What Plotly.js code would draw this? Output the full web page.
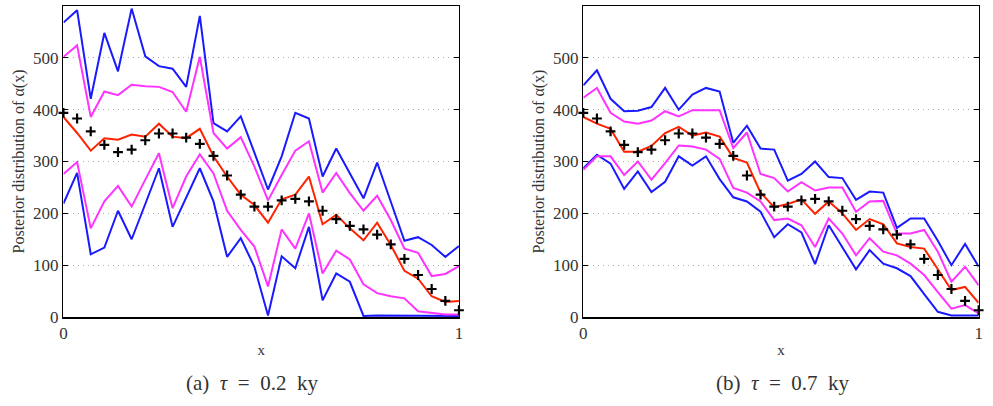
<!DOCTYPE html>
<html>
<head>
<meta charset="utf-8">
<script src="https://cdn.plot.ly/plotly-3.0.1.min.js"></script>
<style>html,body{margin:0;padding:0;background:#fff;}#chart{width:993px;height:406px;}</style>
</head>
<body>
<div id="chart"></div>
<script>
const xGrid = [0, 0.0345, 0.069, 0.1034, 0.1379, 0.1724, 0.2069, 0.2414, 0.2759, 0.3103, 0.3448, 0.3793, 0.4138, 0.4483, 0.4828, 0.5172, 0.5517, 0.5862, 0.6207, 0.6552, 0.6897, 0.7241, 0.7586, 0.7931, 0.8276, 0.8621, 0.8966, 0.931, 0.9655, 1];

const truth = [394, 383, 358, 332, 318, 323, 341, 354, 354, 346, 334, 311, 273, 236, 213, 213, 225, 228, 223, 205, 189, 176, 169, 159, 140, 112, 81, 54, 31, 13];

// (a) tau = 0.2 ky
const aBlueUp  = [568, 592, 421, 548, 474, 595, 503, 484, 479, 444, 581, 374, 358, 387, 317, 246, 310, 394, 383, 271, 325, 276, 229, 298, 223, 147, 154, 139, 116, 137];
const aMagUp   = [502, 524, 386, 435, 428, 448, 445, 444, 434, 396, 502, 355, 325, 347, 290, 225, 274, 321, 339, 240, 278, 239, 205, 234, 187, 132, 124, 79, 83, 98];
const aMean    = [386, 355, 321, 345, 342, 352, 348, 373, 348, 345, 363, 310, 271, 236, 216, 182, 227, 236, 271, 179, 197, 171, 148, 182, 139, 89, 74, 40, 29, 31];
const aMagLow  = [276, 299, 171, 223, 253, 213, 265, 316, 210, 271, 314, 277, 205, 168, 136, 59, 169, 132, 200, 84, 128, 111, 63, 46, 40, 36, 11, 8, 5, 5];
const aBlueLow = [219, 278, 121, 134, 205, 150, 218, 287, 174, 231, 287, 223, 116, 152, 97, 3, 117, 94, 174, 32, 84, 68, 2, 3, 3, 3, 2, 2, 2, 2];

// (b) tau = 0.7 ky
const bBlueUp  = [447, 476, 421, 397, 398, 405, 442, 400, 429, 442, 435, 336, 369, 325, 323, 263, 276, 300, 270, 268, 226, 242, 240, 172, 190, 190, 147, 100, 141, 97];
const bMagUp   = [423, 442, 394, 377, 373, 379, 397, 387, 399, 399, 399, 326, 356, 276, 268, 242, 260, 244, 250, 250, 203, 223, 224, 161, 161, 168, 126, 68, 97, 61];
const bMean    = [386, 373, 363, 319, 319, 330, 355, 367, 350, 356, 348, 307, 298, 240, 212, 218, 227, 199, 223, 200, 168, 189, 179, 142, 135, 132, 92, 52, 58, 27];
const bMagLow  = [284, 310, 310, 274, 300, 265, 297, 331, 329, 323, 305, 249, 240, 223, 187, 190, 177, 135, 190, 161, 119, 152, 126, 119, 103, 81, 48, 16, 23, 7];
const bBlueLow = [287, 313, 296, 247, 281, 241, 261, 310, 292, 310, 266, 231, 223, 203, 154, 179, 163, 102, 177, 135, 92, 129, 103, 94, 79, 44, 10, 3, 3, 3];

const yTicks = [0, 100, 200, 300, 400, 500];
const xTicks = [0, 1];

const BLUE = '#1a1aff', MAG = '#ff33ff', RED = '#ff2200';
function line(y, color, xa, ya) {
  return {x: xGrid, y: y, type: 'scatter', mode: 'lines', xaxis: xa, yaxis: ya,
          line: {color: color, width: 2}, hoverinfo: 'skip', showlegend: false};
}
function marks(xa, ya) {
  return {x: xGrid, y: truth, type: 'scatter', mode: 'markers', xaxis: xa, yaxis: ya,
          marker: {symbol: 'cross-thin', size: 7, color: '#000', line: {color: '#000', width: 2.2}},
          showlegend: false, cliponaxis: false};
}
const traces = [
  line(aBlueUp, BLUE, 'x', 'y'), line(aBlueLow, BLUE, 'x', 'y'),
  line(aMagUp, MAG, 'x', 'y'), line(aMagLow, MAG, 'x', 'y'),
  line(aMean, RED, 'x', 'y'), marks('x', 'y'),
  line(bBlueUp, BLUE, 'x2', 'y2'), line(bBlueLow, BLUE, 'x2', 'y2'),
  line(bMagUp, MAG, 'x2', 'y2'), line(bMagLow, MAG, 'x2', 'y2'),
  line(bMean, RED, 'x2', 'y2'), marks('x2', 'y2')
];

const FONT = '"Liberation Serif", "DejaVu Serif", serif';
const TXT = '#333';
function xAxis(dom, anchor) {
  return {domain: dom, anchor: anchor, range: [0, 1], tickvals: xTicks, ticktext: ['0', '1'],
          showline: true, mirror: 'ticks', linecolor: '#000', linewidth: 1.5,
          ticks: 'inside', ticklen: 5, tickcolor: '#000', showgrid: false, zeroline: false,
          tickfont: {family: FONT, size: 17, color: TXT},
          title: {text: 'x', font: {family: FONT, size: 15, color: TXT}, standoff: 2}};
}
function yAxis(anchor) {
  return {domain: [0.2192, 0.9852], anchor: anchor, range: [0, 600], tickvals: yTicks,
          showline: true, mirror: 'ticks', linecolor: '#000', linewidth: 1.5,
          ticks: 'inside', ticklen: 5, tickcolor: '#000', zeroline: false,
          showgrid: true, gridcolor: '#aaa', griddash: '1px,4px', gridwidth: 1,
          tickfont: {family: FONT, size: 17, color: TXT},
          title: {text: 'Posterior distribution of α(x)', font: {family: FONT, size: 16, color: TXT}, standoff: 4}};
}
const layout = {
  width: 993, height: 406,
  margin: {l: 0, r: 0, t: 0, b: 0},
  paper_bgcolor: '#fff', plot_bgcolor: '#fff',
  xaxis: xAxis([0.0639, 0.4622], 'y'),
  yaxis: yAxis('x'),
  xaxis2: xAxis([0.5874, 0.9856], 'y2'),
  yaxis2: yAxis('x2'),
  annotations: [
    {text: '(a)&nbsp;&nbsp;<i>τ</i>&nbsp;&nbsp;=&nbsp;&nbsp;0.2&nbsp;&nbsp;ky', xref: 'paper', yref: 'paper', x: 0.2538, y: 1 - 383/406,
     xanchor: 'center', yanchor: 'middle',
     showarrow: false, font: {family: FONT, size: 21, color: TXT}},
    {text: '(b)&nbsp;&nbsp;<i>τ</i>&nbsp;&nbsp;=&nbsp;&nbsp;0.7&nbsp;&nbsp;ky', xref: 'paper', yref: 'paper', x: 0.7885, y: 1 - 383/406,
     xanchor: 'center', yanchor: 'middle',
     showarrow: false, font: {family: FONT, size: 21, color: TXT}}
  ]
};
Plotly.newPlot('chart', traces, layout, {staticPlot: true});
</script>
</body>
</html>
